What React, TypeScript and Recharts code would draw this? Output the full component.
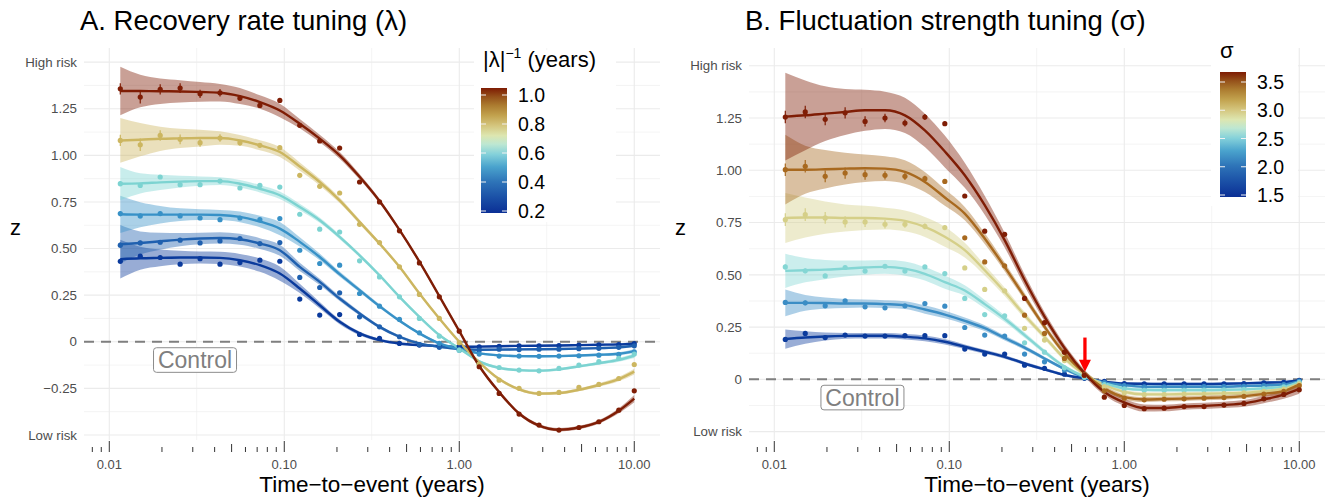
import React from "react";
import {
  Area,
  CartesianGrid,
  ComposedChart,
  ErrorBar,
  Line,
  ReferenceDot,
  ReferenceLine,
  Scatter,
  XAxis,
  YAxis,
} from "recharts";

const FONT = '"Liberation Sans", Arial, Helvetica, sans-serif';

// time points (years), shared by both panels
const times = [
  0.01156, 0.01503, 0.01954, 0.0254, 0.03302, 0.04292, 0.0558, 0.07254, 0.0943,
  0.1226, 0.1594, 0.2072, 0.2693, 0.3501, 0.4552, 0.5917, 0.7692, 1, 1.3, 1.69,
  2.197, 2.856, 3.713, 4.827, 6.275, 8.157, 10,
];

const logTicks = [
  0.008, 0.009, 0.01, 0.02, 0.03, 0.04, 0.05, 0.06, 0.07, 0.08, 0.09, 0.1, 0.2,
  0.3, 0.4, 0.5, 0.6, 0.7, 0.8, 0.9, 1, 2, 3, 4, 5, 6, 7, 8, 9, 10,
];
const xMajor = [0.01, 0.1, 1, 10];
const xMinor = [0.0316, 0.316, 3.16];
const decadeLabels: Record<string, string> = { "0.01": "0.01", "0.1": "0.10", "1": "1.00", "10": "10.00" };

// ---------- panel A : recovery rate ----------
const lamTicksY = [-0.5, -0.25, 0, 0.25, 0.5, 0.75, 1, 1.25, 1.5];
const lamMinorY = [-0.375, -0.125, 0.125, 0.375, 0.625, 0.875, 1.125, 1.375];

const lamFit02 = [0.443, 0.448, 0.45, 0.452, 0.452, 0.45, 0.4375, 0.411, 0.366, 0.286, 0.196, 0.107, 0.045, 0.009, -0.009, -0.018, -0.023, -0.027, -0.026, -0.024, -0.022, -0.021, -0.02, -0.018, -0.016, -0.014, -0.01];
const lamSe02 = [0.104, 0.062, 0.045, 0.036, 0.032, 0.033, 0.034, 0.036, 0.038, 0.025, 0.018, 0.013, 0.01, 0.008, 0.007, 0.006, 0.006, 0.006, 0.005, 0.005, 0.005, 0.005, 0.005, 0.005, 0.005, 0.006, 0.007];
const lamPts02 = [0.432, 0.459, 0.452, 0.416, 0.446, 0.416, 0.425, 0.4375, 0.432, 0.229, 0.143, 0.146, 0.039, 0.018, -0.009, -0.018, -0.022, -0.025, -0.027, -0.024, -0.022, -0.022, -0.02, -0.018, -0.017, -0.015, -0.01];

const lamFit03 = [0.523, 0.53, 0.539, 0.548, 0.554, 0.557, 0.55, 0.527, 0.491, 0.402, 0.321, 0.232, 0.152, 0.08, 0.027, -0.009, -0.027, -0.039, -0.043, -0.042, -0.041, -0.04, -0.039, -0.037, -0.034, -0.03, -0.02];
const lamSe03 = [0.103, 0.062, 0.046, 0.036, 0.031, 0.03, 0.029, 0.029, 0.03, 0.022, 0.017, 0.013, 0.011, 0.009, 0.008, 0.007, 0.006, 0.006, 0.006, 0.006, 0.006, 0.006, 0.006, 0.006, 0.006, 0.007, 0.008];
const lamPts03 = [0.518, 0.53, 0.534, 0.545, 0.53, 0.541, 0.554, 0.527, 0.532, 0.345, 0.291, 0.2625, 0.134, 0.08, 0.027, -0.015, -0.03, -0.04, -0.045, -0.04, -0.042, -0.04, -0.04, -0.037, -0.035, -0.03, -0.022];

const lamFit04 = [0.684, 0.682, 0.682, 0.682, 0.682, 0.68, 0.67, 0.645, 0.607, 0.536, 0.455, 0.3625, 0.277, 0.191, 0.1125, 0.045, -0.009, -0.039, -0.062, -0.073, -0.077, -0.078, -0.077, -0.074, -0.07, -0.064, -0.05];
const lamSe04 = [0.1, 0.067, 0.047, 0.034, 0.029, 0.027, 0.029, 0.031, 0.036, 0.025, 0.018, 0.014, 0.012, 0.01, 0.008, 0.007, 0.006, 0.006, 0.006, 0.006, 0.006, 0.006, 0.006, 0.006, 0.007, 0.008, 0.01];
const lamPts04 = [0.6875, 0.675, 0.6875, 0.675, 0.664, 0.655, 0.664, 0.655, 0.661, 0.491, 0.42, 0.411, 0.259, 0.191, 0.12, 0.048, -0.009, -0.045, -0.066, -0.077, -0.077, -0.078, -0.077, -0.075, -0.072, -0.068, -0.054];

const lamFit06 = [0.848, 0.85, 0.855, 0.859, 0.862, 0.862, 0.848, 0.821, 0.786, 0.723, 0.652, 0.5625, 0.464, 0.357, 0.241, 0.134, 0.036, -0.036, -0.105, -0.14, -0.152, -0.155, -0.148, -0.132, -0.115, -0.097, -0.075];
const lamSe06 = [0.089, 0.054, 0.041, 0.031, 0.025, 0.021, 0.02, 0.02, 0.02, 0.017, 0.014, 0.012, 0.01, 0.009, 0.008, 0.007, 0.007, 0.007, 0.007, 0.007, 0.007, 0.007, 0.007, 0.007, 0.008, 0.01, 0.012];
const lamPts06 = [0.848, 0.839, 0.884, 0.843, 0.843, 0.862, 0.825, 0.839, 0.83, 0.684, 0.604, 0.589, 0.434, 0.348, 0.241, 0.125, 0.03, -0.045, -0.12, -0.138, -0.152, -0.156, -0.143, -0.125, -0.107, -0.089, -0.066];

const lamFit08 = [1.08, 1.084, 1.089, 1.091, 1.093, 1.093, 1.08, 1.054, 1.018, 0.94, 0.857, 0.759, 0.643, 0.527, 0.402, 0.259, 0.125, 0.0, -0.11, -0.2, -0.255, -0.278, -0.275, -0.258, -0.232, -0.2, -0.16];
const lamSe08 = [0.12, 0.089, 0.065, 0.052, 0.045, 0.036, 0.029, 0.027, 0.027, 0.022, 0.018, 0.015, 0.012, 0.01, 0.009, 0.008, 0.008, 0.008, 0.008, 0.008, 0.008, 0.008, 0.008, 0.008, 0.009, 0.012, 0.015];
const lamPts08 = [1.08, 1.057, 1.107, 1.086, 1.068, 1.093, 1.068, 1.054, 1.041, 0.893, 0.834, 0.798, 0.63, 0.532, 0.402, 0.254, 0.125, -0.005, -0.12, -0.206, -0.25, -0.277, -0.272, -0.245, -0.229, -0.197, -0.122];

const lamFit10 = [1.345, 1.345, 1.344, 1.343, 1.34, 1.336, 1.318, 1.286, 1.241, 1.17, 1.09, 1.0, 0.885, 0.755, 0.6, 0.43, 0.245, 0.057, -0.13, -0.27, -0.385, -0.45, -0.472, -0.46, -0.43, -0.37, -0.305];
const lamSe10 = [0.13, 0.087, 0.068, 0.06, 0.053, 0.047, 0.043, 0.036, 0.036, 0.025, 0.02, 0.018, 0.015, 0.012, 0.01, 0.01, 0.009, 0.009, 0.009, 0.009, 0.009, 0.009, 0.009, 0.009, 0.01, 0.014, 0.02];
const lamPts10 = [1.357, 1.3125, 1.354, 1.361, 1.33, 1.336, 1.307, 1.268, 1.295, 1.161, 1.077, 1.039, 0.857, 0.75, 0.595, 0.423, 0.241, 0.057, -0.134, -0.277, -0.388, -0.447, -0.474, -0.46, -0.429, -0.367, -0.263];

const lamErrSmall = [0.014, 0.012, 0.011, 0.01, 0.009, 0.008, 0.007, 0.006, 0.005, 0.004, 0.004, 0.004, 0.003, 0.003, 0.003, 0.003, 0.003, 0.003, 0.003, 0.003, 0.003, 0.003, 0.003, 0.003, 0.003, 0.003, 0.003];
const lamErrBig = [0.03, 0.034, 0.028, 0.026, 0.022, 0.02, 0.016, 0.013, 0.01, 0.008, 0.007, 0.006, 0.005, 0.005, 0.005, 0.004, 0.004, 0.004, 0.004, 0.004, 0.004, 0.004, 0.004, 0.004, 0.004, 0.004, 0.005];

const lamColors = ["#0A3A9C", "#1F60AF", "#3791C7", "#7CD3D1", "#CCB660", "#7F1D05"];

// ---------- panel B : fluctuation strength ----------
const sigTicksY = [-0.25, 0, 0.25, 0.5, 0.75, 1, 1.25, 1.5];
const sigMinorY = [-0.125, 0.125, 0.375, 0.625, 0.875, 1.125, 1.375];

const sigFit15 = [0.193, 0.2, 0.205, 0.208, 0.209, 0.209, 0.204, 0.196, 0.18, 0.156, 0.132, 0.108, 0.076, 0.048, 0.021, 0.005, -0.011, -0.02, -0.021, -0.022, -0.022, -0.022, -0.021, -0.019, -0.016, -0.013, -0.004];
const sigSe15 = [0.046, 0.03, 0.019, 0.014, 0.013, 0.013, 0.013, 0.014, 0.013, 0.011, 0.01, 0.009, 0.008, 0.007, 0.006, 0.006, 0.006, 0.006, 0.006, 0.006, 0.006, 0.006, 0.006, 0.006, 0.006, 0.006, 0.006];
const sigPts15 = [0.191, 0.22, 0.2, 0.212, 0.207, 0.207, 0.209, 0.209, 0.209, 0.145, 0.121, 0.121, 0.068, 0.053, 0.025, 0.005, -0.01, -0.02, -0.022, -0.022, -0.022, -0.022, -0.021, -0.02, -0.017, -0.014, -0.005];

const sigFit19 = [0.366, 0.366, 0.365, 0.363, 0.363, 0.36, 0.355, 0.334, 0.31, 0.28, 0.245, 0.198, 0.152, 0.1, 0.05, 0.01, -0.015, -0.028, -0.035, -0.035, -0.035, -0.035, -0.035, -0.032, -0.029, -0.024, -0.008];
const sigSe19 = [0.064, 0.038, 0.027, 0.022, 0.019, 0.019, 0.019, 0.02, 0.018, 0.016, 0.014, 0.012, 0.01, 0.008, 0.007, 0.006, 0.006, 0.006, 0.006, 0.006, 0.006, 0.006, 0.006, 0.006, 0.006, 0.007, 0.008];
const sigPts19 = [0.368, 0.366, 0.352, 0.376, 0.347, 0.342, 0.352, 0.363, 0.35, 0.248, 0.212, 0.207, 0.121, 0.084, 0.045, 0.008, -0.015, -0.03, -0.036, -0.036, -0.036, -0.035, -0.035, -0.033, -0.03, -0.025, -0.008];

const sigFit23 = [0.519, 0.522, 0.525, 0.53, 0.535, 0.538, 0.53, 0.505, 0.465, 0.425, 0.36, 0.29, 0.212, 0.132, 0.061, 0.013, -0.019, -0.043, -0.05, -0.051, -0.051, -0.051, -0.05, -0.048, -0.043, -0.035, -0.012];
const sigSe23 = [0.082, 0.058, 0.046, 0.038, 0.034, 0.033, 0.034, 0.032, 0.032, 0.025, 0.02, 0.016, 0.013, 0.011, 0.009, 0.008, 0.008, 0.008, 0.008, 0.008, 0.008, 0.008, 0.008, 0.008, 0.008, 0.009, 0.01];
const sigPts23 = [0.538, 0.519, 0.495, 0.535, 0.518, 0.541, 0.518, 0.538, 0.506, 0.387, 0.31, 0.304, 0.175, 0.13, 0.055, 0.01, -0.025, -0.045, -0.052, -0.052, -0.052, -0.051, -0.05, -0.048, -0.044, -0.036, -0.014];

const sigFit28 = [0.772, 0.774, 0.774, 0.772, 0.772, 0.769, 0.758, 0.729, 0.682, 0.618, 0.522, 0.419, 0.307, 0.204, 0.1, 0.025, -0.027, -0.06, -0.072, -0.072, -0.07, -0.069, -0.067, -0.064, -0.056, -0.045, -0.02];
const sigSe28 = [0.12, 0.096, 0.077, 0.065, 0.058, 0.052, 0.05, 0.048, 0.048, 0.035, 0.025, 0.02, 0.016, 0.013, 0.011, 0.01, 0.01, 0.01, 0.01, 0.01, 0.01, 0.01, 0.01, 0.01, 0.01, 0.011, 0.014];
const sigPts28 = [0.764, 0.788, 0.772, 0.753, 0.753, 0.742, 0.742, 0.732, 0.726, 0.533, 0.43, 0.424, 0.244, 0.188, 0.09, 0.02, -0.035, -0.065, -0.073, -0.073, -0.071, -0.07, -0.068, -0.065, -0.057, -0.046, -0.022];

const sigFit31 = [1.003, 1.003, 1.005, 1.008, 1.01, 1.008, 0.992, 0.944, 0.87, 0.793, 0.674, 0.538, 0.395, 0.252, 0.124, 0.03, -0.043, -0.085, -0.096, -0.094, -0.092, -0.089, -0.086, -0.08, -0.069, -0.056, -0.024];
const sigSe31 = [0.167, 0.115, 0.092, 0.076, 0.066, 0.059, 0.056, 0.048, 0.04, 0.032, 0.026, 0.021, 0.018, 0.015, 0.013, 0.012, 0.012, 0.012, 0.012, 0.011, 0.011, 0.011, 0.011, 0.012, 0.013, 0.015, 0.018];
const sigPts31 = [1.003, 1.019, 0.971, 0.987, 0.979, 0.976, 0.971, 0.96, 0.947, 0.677, 0.562, 0.543, 0.307, 0.22, 0.1, 0.02, -0.055, -0.09, -0.098, -0.095, -0.093, -0.09, -0.087, -0.081, -0.07, -0.057, -0.03];

const sigFit35 = [1.257, 1.263, 1.271, 1.279, 1.287, 1.287, 1.263, 1.191, 1.09, 0.976, 0.833, 0.666, 0.475, 0.3, 0.15, 0.03, -0.06, -0.11, -0.137, -0.137, -0.13, -0.127, -0.122, -0.115, -0.096, -0.073, -0.045];
const sigSe35 = [0.21, 0.167, 0.131, 0.11, 0.098, 0.089, 0.084, 0.08, 0.076, 0.06, 0.045, 0.035, 0.028, 0.022, 0.018, 0.016, 0.016, 0.017, 0.017, 0.016, 0.015, 0.015, 0.015, 0.016, 0.018, 0.02, 0.024];
const sigPts35 = [1.255, 1.279, 1.244, 1.275, 1.234, 1.25, 1.226, 1.255, 1.223, 0.877, 0.709, 0.694, 0.387, 0.271, 0.13, 0.02, -0.085, -0.125, -0.14, -0.138, -0.13, -0.13, -0.123, -0.115, -0.093, -0.072, -0.05];

const sigErrSmall = [0.012, 0.011, 0.01, 0.009, 0.008, 0.007, 0.006, 0.005, 0.005, 0.004, 0.004, 0.004, 0.003, 0.003, 0.003, 0.003, 0.003, 0.003, 0.003, 0.003, 0.003, 0.003, 0.003, 0.003, 0.003, 0.003, 0.003];
const sigErrBig = [0.03, 0.03, 0.028, 0.027, 0.024, 0.02, 0.017, 0.014, 0.011, 0.009, 0.008, 0.007, 0.006, 0.005, 0.005, 0.005, 0.004, 0.004, 0.004, 0.004, 0.004, 0.004, 0.004, 0.004, 0.004, 0.005, 0.006];

const sigColors = ["#0B3B9D", "#3B8DC5", "#84D6D4", "#D5CF88", "#A8691F", "#7F1D05"];

// colour bar legends
const lamLegendTicks = [0.2, 0.4, 0.6, 0.8, 1.0];
const sigLegendTicks = [1.5, 2.0, 2.5, 3.0, 3.5];
const rampStops: [number, string][] = [
  [0, "#0B2F95"], [0.12, "#1A4FA6"], [0.25, "#2E74B8"], [0.37, "#4AA3CD"], [0.47, "#84D1DA"],
  [0.55, "#BDE7D2"], [0.62, "#DDE6B0"], [0.7, "#D4C57D"], [0.78, "#C2A24E"], [0.86, "#AC7C30"],
  [0.93, "#95511A"], [1, "#7E1B03"],
];

type Series = { color: string; fit: number[]; se: number[]; pts: number[]; err: number[] };

const lamSeries: Series[] = [
  { color: lamColors[0], fit: lamFit02, se: lamSe02, pts: lamPts02, err: lamErrSmall },
  { color: lamColors[1], fit: lamFit03, se: lamSe03, pts: lamPts03, err: lamErrSmall },
  { color: lamColors[2], fit: lamFit04, se: lamSe04, pts: lamPts04, err: lamErrSmall },
  { color: lamColors[3], fit: lamFit06, se: lamSe06, pts: lamPts06, err: lamErrSmall },
  { color: lamColors[4], fit: lamFit08, se: lamSe08, pts: lamPts08, err: lamErrBig },
  { color: lamColors[5], fit: lamFit10, se: lamSe10, pts: lamPts10, err: lamErrBig },
];

const sigSeries: Series[] = [
  { color: sigColors[0], fit: sigFit15, se: sigSe15, pts: sigPts15, err: sigErrSmall },
  { color: sigColors[1], fit: sigFit19, se: sigSe19, pts: sigPts19, err: sigErrSmall },
  { color: sigColors[2], fit: sigFit23, se: sigSe23, pts: sigPts23, err: sigErrSmall },
  { color: sigColors[3], fit: sigFit28, se: sigSe28, pts: sigPts28, err: sigErrBig },
  { color: sigColors[4], fit: sigFit31, se: sigSe31, pts: sigPts31, err: sigErrBig },
  { color: sigColors[5], fit: sigFit35, se: sigSe35, pts: sigPts35, err: sigErrBig },
];

function buildRows(series: Series[]) {
  return times.map((x, i) => {
    const row: Record<string, number> = { x };
    series.forEach((s, j) => {
      row[`f${j}`] = s.fit[i];
      row[`lo${j}`] = s.fit[i] - s.se[i];
      row[`hi${j}`] = s.fit[i] + s.se[i];
    });
    return row;
  });
}

const LogTick = (props: any) => {
  const { x, y, payload } = props;
  const v = payload.value as number;
  const m = Math.round(v / Math.pow(10, Math.floor(Math.log10(v) + 1e-9)));
  const len = m === 1 ? 11 : m === 5 ? 8 : 5;
  const bottom = y + 12;
  const label = m === 1 ? decadeLabels[String(v)] : undefined;
  return (
    <g>
      <line x1={x} x2={x} y1={bottom - len} y2={bottom} stroke="#333" strokeWidth={1} />
      {label && (
        <text x={x} y={y + 29} textAnchor="middle" fontSize={13} fill="#4D4D4D" fontFamily={FONT}>
          {label}
        </text>
      )}
    </g>
  );
};

const makeYTick = (ticks: number[]) => (props: any) => {
  const { x, y, payload } = props;
  const v = payload.value as number;
  let label: string;
  if (v === ticks[0]) label = "Low risk";
  else if (v === ticks[ticks.length - 1]) label = "High risk";
  else if (v === 0) label = "0";
  else if (v < 0) label = "\u2212" + Math.abs(v).toFixed(2);
  else label = v.toFixed(2);
  return (
    <text x={x} y={y + 4.7} textAnchor="end" fontSize={13.3} fill="#4D4D4D" fontFamily={FONT}>
      {label}
    </text>
  );
};

const ControlShape = (props: any) => {
  const { cx, cy } = props;
  return (
    <g>
      <rect x={cx - 41.5} y={cy - 12.3} width={83} height={24.6} rx={3} fill="#fff" stroke="#8C8C8C" strokeWidth={1} />
      <text x={cx} y={cy + 8.2} textAnchor="middle" fontSize={23} fill="#7F7F7F" fontFamily={FONT}>
        Control
      </text>
    </g>
  );
};

const ArrowHead = (props: any) => {
  const { cx, cy } = props;
  return <polygon points={`${cx - 6},${cy - 12} ${cx + 6},${cy - 12} ${cx},${cy}`} fill="#FF0000" />;
};

const Dot = (color: string) => (props: any) => <circle cx={props.cx} cy={props.cy} r={2.6} fill={color} />;

type PanelProps = {
  series: Series[];
  yDomain: [number, number];
  yTicks: number[];
  yMinor: number[];
  control: { x: number; y: number };
  arrow?: boolean;
};

function Panel({ series, yDomain, yTicks, yMinor, control, arrow }: PanelProps) {
  const rows = buildRows(series);
  return (
    <ComposedChart
      width={665}
      height={497}
      data={rows}
      margin={{ top: 48, right: 5, bottom: 0, left: 0 }}
    >
      <CartesianGrid stroke="#EFEFEF" strokeWidth={0.7} horizontalValues={yMinor} verticalValues={xMinor} />
      <CartesianGrid stroke="#EBEBEB" strokeWidth={1.1} horizontalValues={yTicks} verticalValues={xMajor} />
      <XAxis
        dataKey="x"
        type="number"
        scale="log"
        domain={[0.00717, 14.03]}
        allowDataOverflow
        ticks={logTicks}
        interval={0}
        tick={LogTick}
        tickLine={false}
        axisLine={false}
        tickSize={0}
        tickMargin={0}
        height={57}
        label={{ value: "Time\u2212to\u2212event (years)", position: "insideBottom", offset: 5, fill: "#000", fontSize: 22.5, fontFamily: FONT }}
      />
      <YAxis
        type="number"
        domain={yDomain}
        allowDataOverflow
        ticks={yTicks}
        interval={0}
        tick={makeYTick(yTicks)}
        tickLine={false}
        axisLine={false}
        tickSize={0}
        tickMargin={7}
        width={84}
      />
      <ReferenceLine y={0} stroke="#7F7F7F" strokeWidth={2} strokeDasharray="10 7" />
      {series.map((s, j) => (
        <Area
          key={`a${j}`}
          type="monotone"
          dataKey={(d: any) => [d[`lo${j}`], d[`hi${j}`]]}
          stroke="none"
          fill={s.color}
          fillOpacity={0.42}
          dot={false}
          activeDot={false}
          isAnimationActive={false}
        />
      ))}
      {series.map((s, j) => (
        <Line
          key={`l${j}`}
          type="monotone"
          dataKey={`f${j}`}
          stroke={s.color}
          strokeWidth={2.4}
          dot={false}
          activeDot={false}
          isAnimationActive={false}
        />
      ))}
      {series.map((s, j) => (
        <Scatter
          key={`s${j}`}
          data={times.map((x, i) => ({ x, y: s.pts[i], e: s.err[i] }))}
          dataKey="y"
          fill={s.color}
          shape={Dot(s.color)}
          isAnimationActive={false}
        >
          <ErrorBar dataKey="e" direction="y" width={0} stroke={s.color} strokeWidth={1.2} />
        </Scatter>
      ))}
      <ReferenceDot x={control.x} y={control.y} r={0} shape={ControlShape} />
      {arrow && (
        <ReferenceLine
          segment={[{ x: 0.596, y: 0.2 }, { x: 0.596, y: 0.08 }]}
          stroke="#FF0000"
          strokeWidth={3.3}
        />
      )}
      {arrow && <ReferenceDot x={0.596} y={0.036} r={0} shape={ArrowHead} />}
    </ComposedChart>
  );
}

function ColorBar({ id, x, y, h, ticks, tickY }: { id: string; x: number; y: number; h: number; ticks: number[]; tickY: (v: number) => number }) {
  return (
    <g>
      <defs>
        <linearGradient id={id} x1="0" y1="1" x2="0" y2="0">
          {rampStops.map(([o, c]) => (
            <stop key={o} offset={o} stopColor={c} />
          ))}
        </linearGradient>
      </defs>
      <rect x={x} y={y} width={26} height={h} fill={`url(#${id})`} />
      {ticks.map((t) => (
        <g key={t}>
          <line x1={x} x2={x + 5} y1={tickY(t)} y2={tickY(t)} stroke="#F2F2F2" strokeWidth={1} />
          <line x1={x + 21} x2={x + 26} y1={tickY(t)} y2={tickY(t)} stroke="#F2F2F2" strokeWidth={1} />
          <text x={x + 37} y={tickY(t) + 7} fontSize={19.5} fill="#000" fontFamily={FONT}>
            {t.toFixed(1)}
          </text>
        </g>
      ))}
    </g>
  );
}

export default function App() {
  const lamY = (v: number) => 211 - (v - 0.2) * 145;
  const sigY = (v: number) => 195 - (v - 1.5) * 56.5;
  return (
    <div style={{ position: "absolute", left: 0, top: 0, width: 1330, height: 497, background: "#fff", fontFamily: FONT }}>
      <div style={{ position: "absolute", left: 0, top: 0 }}>
        <Panel
          series={lamSeries}
          yDomain={[-0.527, 1.576]}
          yTicks={lamTicksY}
          yMinor={lamMinorY}
          control={{ x: 0.0309, y: -0.098 }}
        />
      </div>
      <div style={{ position: "absolute", left: 665, top: 0 }}>
        <Panel
          series={sigSeries}
          yDomain={[-0.29, 1.585]}
          yTicks={sigTicksY}
          yMinor={sigMinorY}
          control={{ x: 0.0319, y: -0.087 }}
          arrow
        />
      </div>
      <svg width={1330} height={497} style={{ position: "absolute", left: 0, top: 0, pointerEvents: "none" }}>
        <text x={80} y={30} fontSize={27.5} fill="#000" fontFamily={FONT}>
          A. Recovery rate tuning (λ)
        </text>
        <text x={745} y={30} fontSize={27.5} fill="#000" fontFamily={FONT}>
          B. Fluctuation strength tuning (σ)
        </text>
        <text x={10} y={235} fontSize={22} fill="#000" fontFamily={FONT}>z</text>
        <text x={675} y={235} fontSize={22} fill="#000" fontFamily={FONT}>z</text>

        <rect x={474} y={50} width={142} height={172} fill="#fff" />
        <text x={483} y={67} fontSize={22} fill="#000" fontFamily={FONT}>
          |λ|<tspan dy={-9} fontSize={14}>{"\u22121"}</tspan>
          <tspan dy={9}> (years)</tspan>
        </text>
        <ColorBar id="lamRamp" x={481} y={88} h={125} ticks={lamLegendTicks} tickY={lamY} />

        <rect x={1211} y={36} width={87} height={170} fill="#fff" />
        <text x={1220} y={58} fontSize={22} fill="#000" fontFamily={FONT}>σ</text>
        <ColorBar id="sigRamp" x={1220} y={72} h={125} ticks={sigLegendTicks} tickY={sigY} />
      </svg>
    </div>
  );
}
